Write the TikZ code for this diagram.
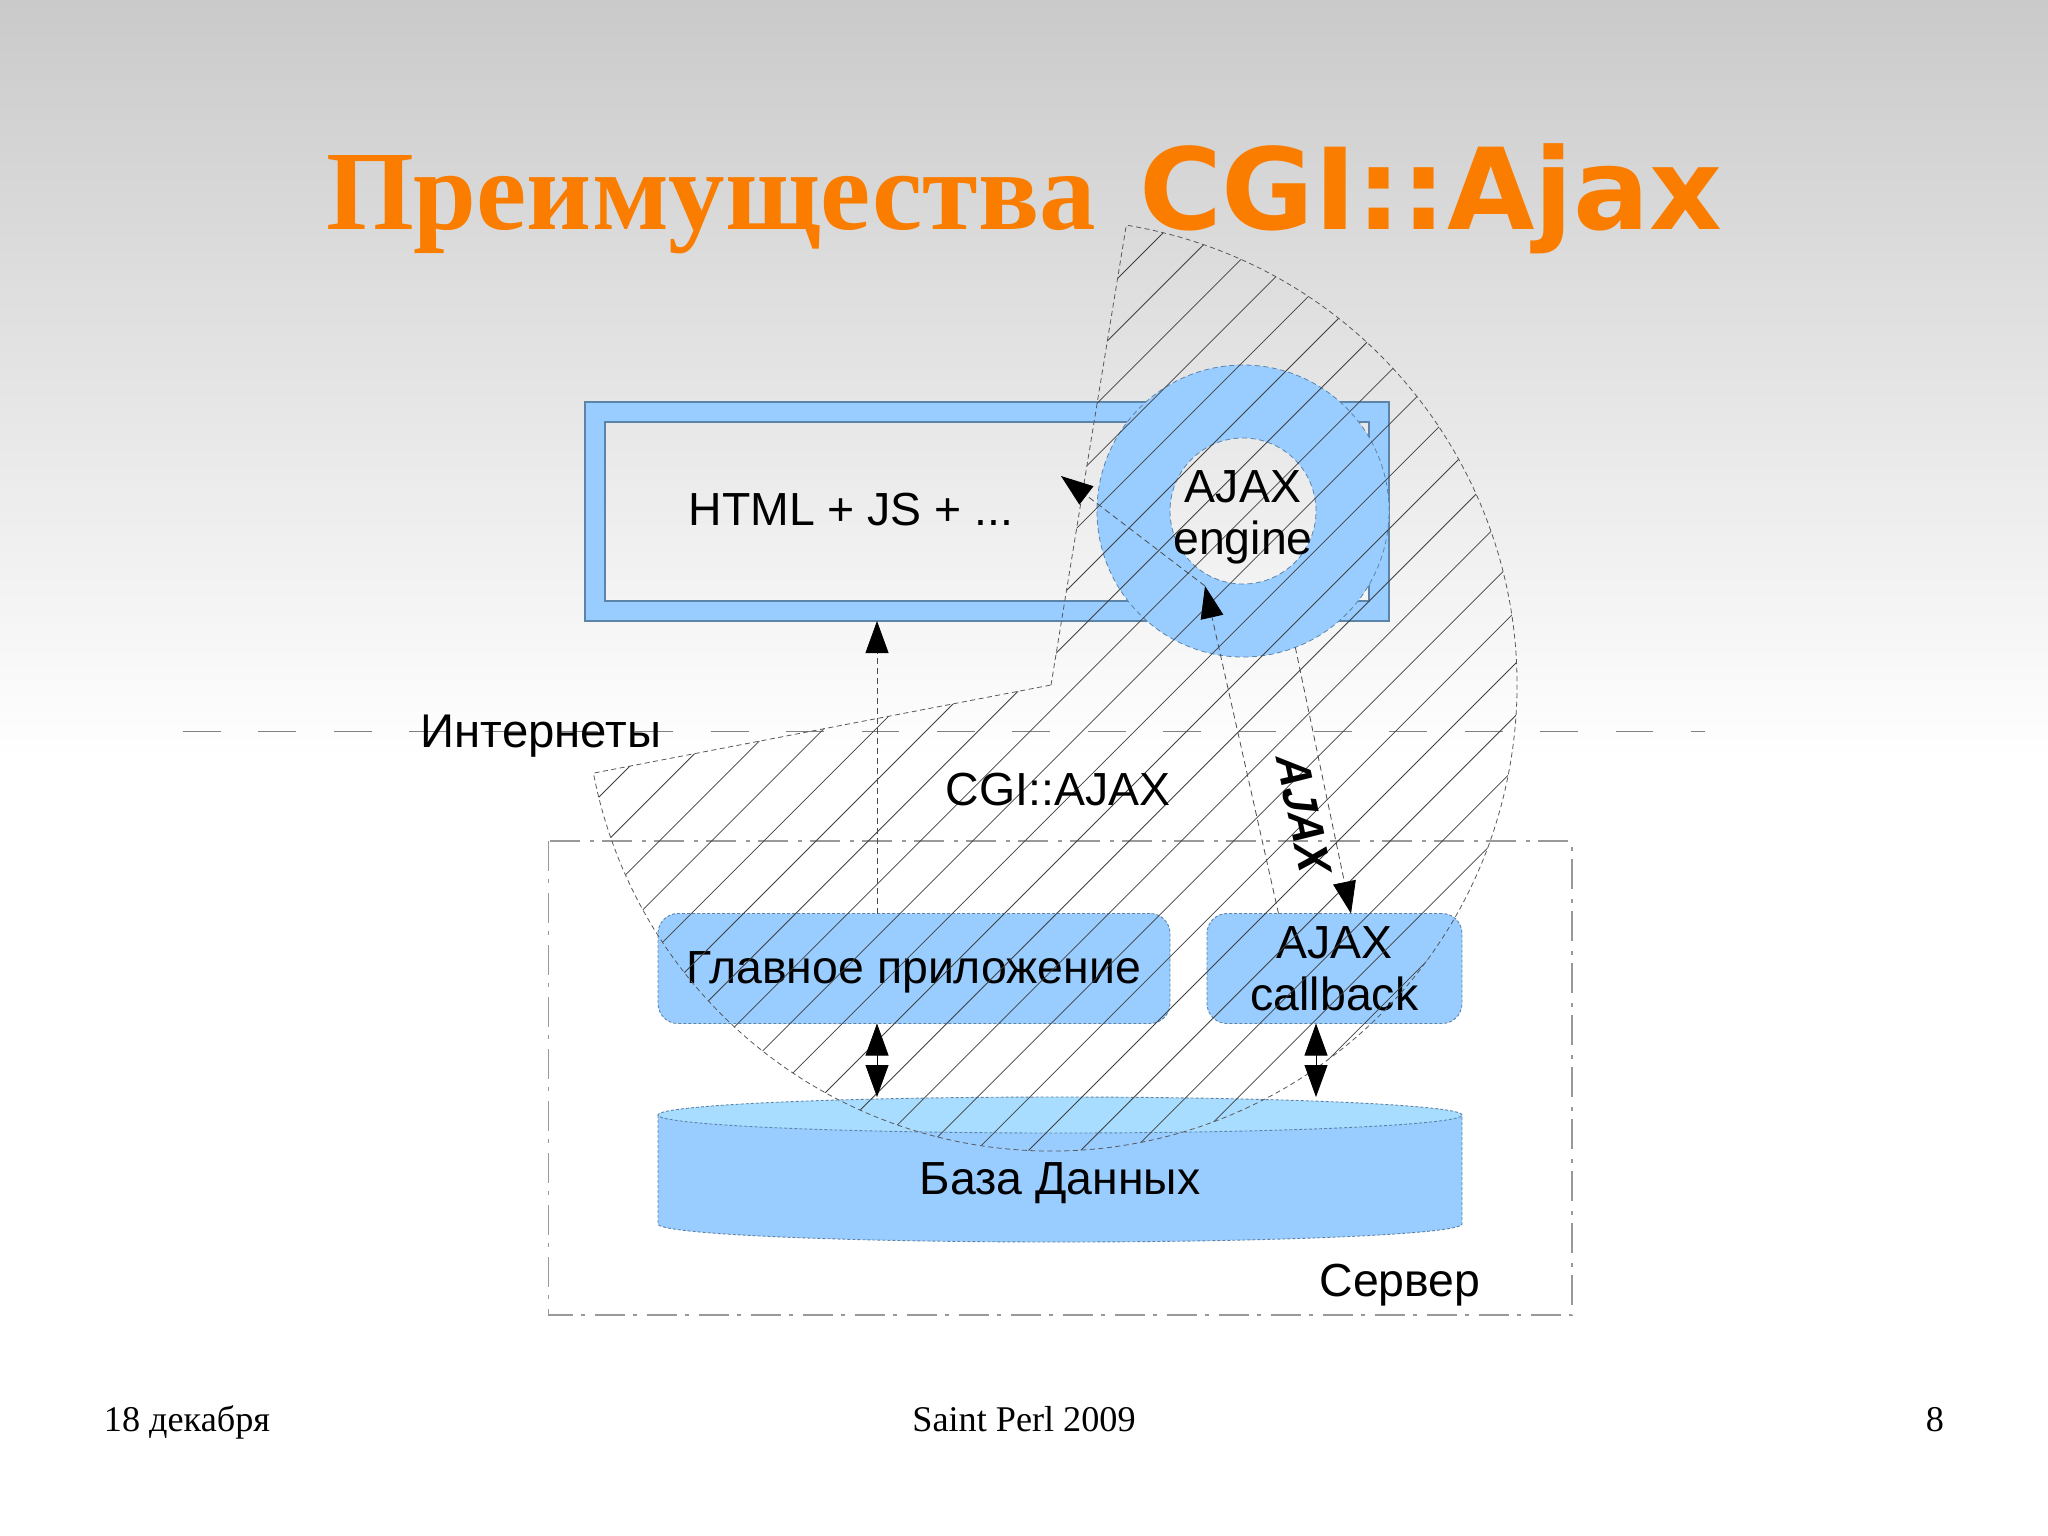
\documentclass[tikz,border=0pt]{standalone}
\usepackage{fontspec}
\setmainfont{Liberation Sans}
\newfontfamily\serifface{Liberation Serif}
\newfontfamily\dejaface{DejaVu Sans}
\usetikzlibrary{arrows.meta}
\definecolor{skyfill}{HTML}{99CCFF}
\definecolor{skylight}{HTML}{A8DDFF}
\definecolor{skyedge}{HTML}{5C84A8}
\definecolor{titlecol}{HTML}{FA7D00}
\definecolor{topgray}{HTML}{CACACA}
\def\piepath{(piv) -- ++(80.7:466pt) arc[start angle=80.7,end angle=-169.1,radius=466pt] -- cycle}
\begin{document}
\begin{tikzpicture}[x=1pt,y=-1pt,>={Triangle[length=32pt,width=23pt,color=black]},
	every node/.style={inner sep=0pt,outer sep=0pt},
	label/.style={font=\fontsize{46.4}{52}\selectfont,align=center},
	footer/.style={font=\serifface\fontsize{36.2}{40}\selectfont,anchor=base},
	title/.style={text=titlecol,anchor=base west},
	bluebox/.style={label,draw=skyedge,dash pattern=on 3pt off 2pt,line width=0.9pt,fill=skyfill,rounded corners=20pt,minimum height=110pt},
	linkstyle/.style={draw=black!70,line width=0.8pt,dash pattern=on 6pt off 4pt},
	hatchline/.style={draw=black!75,line width=0.8pt},
	pieline/.style={draw=black!65,line width=0.8pt,dash pattern=on 5pt off 3.5pt},
	tierline/.style={draw=black!50,line width=1pt,dash pattern=on 37.7pt off 37.7pt},
	serverline/.style={draw=black!40,line width=1.2pt,dash pattern=on 30pt off 8pt on 4pt off 10pt}]
	
	\useasboundingbox (0,0) rectangle (2048,1535);
	\fill[white] (0,0) rectangle (2048,1535);
	\shade[top color=topgray,bottom color=white] (0,0) rectangle (2048,760);
	
	\node[title,font=\serifface\fontsize{113}{120}\selectfont\bfseries] (head) at (326,229) {Преимущества};
	\node[title,font=\dejaface\fontsize{113}{120}\selectfont\bfseries] (headb) at (1139,229) {CGI::Ajax};
	
	\path[fill=skyfill,draw=skyedge,line width=1.2pt,even odd rule] (585,402) rectangle (1389,621) (605,422) rectangle (1369,601);
	\node[minimum width=804pt,minimum height=219pt] (page) at (987,511.5) {};
	\fill[skyfill,even odd rule] (1243,511) circle[radius=146pt] (1243,511) circle[radius=73pt];
	\draw[pieline,draw=skyedge] (1243,511) circle[radius=146pt] (1243,511) circle[radius=73pt];
	\node[circle,minimum size=292pt] (ring) at (1243,511) {};
	
	\draw[tierline] (183,731) -- (1705,731);
	\draw[serverline] (548.5,841) rectangle (1572,1315);
	
	\node[bluebox,minimum width=512pt,text height=33pt,text depth=3pt] (app) at (914,968.5) {Главное приложение};
	\node[bluebox,minimum width=255pt] (callback) at (1334.5,968.5) {AJAX\\callback};
	
	\path[fill=skyfill,draw=skyedge,dash pattern=on 3pt off 2pt,line width=0.9pt]
		(658,1115) -- (658,1224) arc[start angle=180,end angle=360,x radius=402pt,y radius=18pt] -- (1462,1115) -- cycle;
	\path[fill=skylight,draw=skyedge,dash pattern=on 3pt off 2pt,line width=0.9pt]
		(1060,1115) ellipse[x radius=402pt,y radius=18pt];
	\coordinate (dbtop) at (1060,1097);
	\node[label,anchor=base] (db) at (1060,1194) {База Данных};
	
	\coordinate (piv) at (1051,685);
	\begin{scope}
		\clip \piepath;
		\foreach \k in {0,...,19}
			\draw[hatchline] ({1396+52.2*\k-100},100) -- ({1396+52.2*\k-1300},1300);
	\end{scope}
	\draw[pieline] \piepath;
	
	\coordinate (back) at (1205,586);
	\coordinate (pagein) at (1061,476);
	
	\draw[->,linkstyle] ([xshift=-110pt]page.south |- app.north) to ([xshift=-110pt]page.south);
	\draw[<->,line width=0.8pt] ([xshift=-37pt]app.south) to ([xshift=-183pt]dbtop);
	\draw[<->,line width=0.8pt] ([xshift=-18.5pt]callback.south) to ([xshift=256pt]dbtop);
	\draw[->,linkstyle] (ring.-69.6) to ([xshift=16.5pt]callback.north);
	\draw[->,linkstyle] ([xshift=-56pt]callback.north) to (back);
	\draw[->,linkstyle] (back) to (pagein);
	
	\node[label,anchor=base] (html) at (851,525) {HTML + JS + ...};
	\node[label] (engine) at (1243,517) {AJAX\\engine};
	\node[label,font=\fontsize{47.3}{52}\selectfont,anchor=base] (inet) at (541,747) {Интернеты};
	\node[label,anchor=base] (cgi) at (1058,805) {CGI::AJAX};
	\node[label,font=\fontsize{46}{52}\selectfont\bfseries,cm={0.204,-0.94,1.045,-0.098,(0,0)},transform shape] (ajax) at (1304,815) {AJAX};
	\node[label,anchor=base] (server) at (1400,1296) {Сервер};
	
	\node[footer] (date) at (187,1431) {18 декабря};
	\node[footer] (event) at (1024,1431) {Saint Perl 2009};
	\node[footer] (num) at (1935,1431) {8};
	\end{tikzpicture}
\end{document}
